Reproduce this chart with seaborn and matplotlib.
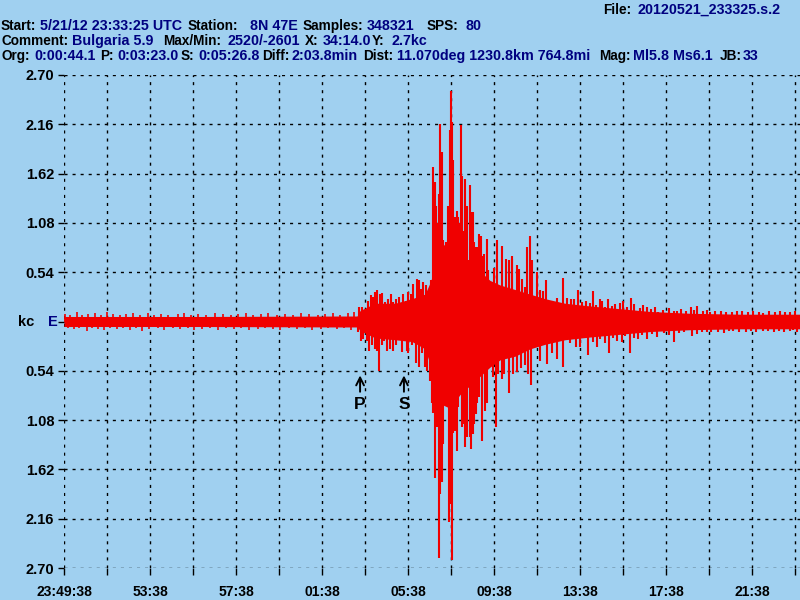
import numpy as np
import pandas as pd
import matplotlib
matplotlib.use("Agg")
import matplotlib.pyplot as plt
import seaborn as sns

# time axis in minutes after 23:49:38, amplitude in kilocounts (kc)
x_ticks = [0, 4, 8, 12, 16, 20, 24, 28, 32]
x_labels = ["23:49:38", "53:38", "57:38", "01:38", "05:38", "09:38", "13:38", "17:38", "21:38"]
y_ticks = [2.70, 2.16, 1.62, 1.08, 0.54, 0.0, -0.54, -1.08, -1.62, -2.16, -2.70]
y_labels = ["2.70", "2.16", "1.62", "1.08", "0.54", "", "0.54", "1.08", "1.62", "2.16", "2.70"]

# solid body of the trace (envelope)
core_t = [0.0, 6.33, 12.84, 13.63, 13.77, 14.47, 15.40, 16.19, 16.79, 17.07, 17.21, 17.49,
          17.95, 18.42, 19.12, 19.81, 20.28, 20.98, 21.67, 22.37, 23.30, 24.47, 25.86,
          27.26, 29.12, 31.44, 34.23]
core_hi = [0.055, 0.055, 0.06, 0.06, 0.12, 0.20, 0.20, 0.25, 0.30, 0.45, 0.60, 0.80,
           0.90, 0.75, 0.60, 0.45, 0.40, 0.35, 0.30, 0.25, 0.20, 0.17, 0.14,
           0.11, 0.09, 0.08, 0.08]
core_lo = [-0.055, -0.055, -0.06, -0.06, -0.10, -0.18, -0.20, -0.22, -0.30, -0.50, -0.75, -0.90,
           -0.95, -0.80, -0.65, -0.50, -0.42, -0.38, -0.30, -0.25, -0.20, -0.17, -0.14,
           -0.11, -0.09, -0.08, -0.08]

# small peaks of the background noise
noise_up_t = [0.05, 0.30, 0.59, 0.85, 1.10, 1.42, 1.70, 1.99, 2.28, 2.60, 2.90, 3.20, 3.55,
              3.90, 4.20, 4.50, 4.85, 5.30, 5.60, 5.90, 6.25, 6.60, 7.00, 7.40, 7.75, 8.10,
              8.45, 8.80, 9.15, 9.50, 9.90, 10.30, 10.65, 11.00, 11.40, 11.80, 12.15, 12.50,
              12.85, 13.20, 13.50]
noise_up_kc = [0.08, 0.07, 0.10, 0.07, 0.08, 0.09, 0.07, 0.10, 0.08, 0.07, 0.08, 0.09, 0.07,
               0.09, 0.07, 0.08, 0.07, 0.08, 0.09, 0.07, 0.08, 0.07, 0.09, 0.08, 0.07, 0.08,
               0.09, 0.07, 0.08, 0.09, 0.07, 0.08, 0.07, 0.09, 0.08, 0.07, 0.08, 0.09,
               0.07, 0.09, 0.10]
noise_down_t = [0.18, 0.45, 0.72, 1.08, 1.30, 1.60, 1.85, 2.15, 2.45, 2.75, 3.05, 3.35, 3.61,
                3.95, 4.35, 4.65, 5.05, 5.40, 5.75, 6.05, 6.40, 6.80, 7.15, 7.55, 7.90, 8.25,
                8.60, 9.00, 9.35, 9.70, 10.05, 10.45, 10.85, 11.20, 11.55, 11.95, 12.30,
                12.70, 13.00, 13.35]
noise_down_kc = [-0.07, -0.08, -0.07, -0.10, -0.07, -0.08, -0.09, -0.07, -0.08, -0.07, -0.09,
                 -0.07, -0.10, -0.08, -0.07, -0.09, -0.07, -0.08, -0.07, -0.09, -0.08, -0.07,
                 -0.09, -0.07, -0.08, -0.07, -0.09, -0.08, -0.07, -0.08, -0.09, -0.07, -0.08,
                 -0.07, -0.09, -0.08, -0.07, -0.08, -0.07, -0.09]

# upward peaks of the quake
up_t = [13.73, 13.85, 14.00, 14.15, 14.28, 14.39, 14.47, 14.57, 14.70, 14.80, 14.93, 15.06,
        15.20, 15.32, 15.44, 15.60, 15.75, 15.91, 16.01, 16.13, 16.25, 16.40, 16.51, 16.60,
        16.71, 16.84, 16.94, 17.06,
        17.18, 17.26, 17.30, 17.35, 17.46, 17.50, 17.60, 17.64, 17.78, 17.88, 17.95, 18.01,
        18.06, 18.11, 18.19, 18.23, 18.29, 18.34, 18.42, 18.48, 18.53, 18.59, 18.65, 18.73,
        18.80, 18.87, 18.93, 19.01, 19.08, 19.16, 19.22, 19.29, 19.40, 19.46, 19.52, 19.66,
        19.74, 20.01, 20.12, 20.37, 20.56, 20.70, 20.82, 21.06,
        20.85, 21.16, 21.29, 21.44, 21.52, 21.67, 21.75, 21.99, 22.14, 22.29, 22.43, 22.60,
        22.94, 23.22, 23.38, 23.57, 23.72, 23.89, 24.08, 24.28, 24.59, 24.93, 25.16, 25.32,
        25.63, 26.01, 26.37, 26.64, 26.92, 27.10, 27.64, 28.50, 29.15, 29.46, 30.05, 31.06,
        32.53, 33.77,
        24.45, 24.75, 25.00, 25.50, 25.85, 26.20, 26.50, 26.80, 27.30, 27.50, 27.85, 28.15,
        28.35, 28.70, 28.95, 29.30, 29.70, 29.90, 30.30, 30.55, 30.80, 31.30, 31.55, 31.80,
        32.05, 32.30, 32.80, 33.05, 33.30, 33.55, 34.00]
up_kc = [0.16, 0.16, 0.12, 0.23, 0.29, 0.27, 0.32, 0.34, 0.30, 0.31, 0.21, 0.25,
         0.30, 0.21, 0.25, 0.27, 0.30, 0.23, 0.32, 0.30, 0.41, 0.47, 0.45, 0.36,
         0.43, 0.40, 0.32, 0.45,
         1.69, 1.53, 1.27, 1.08, 1.40, 2.16, 1.86, 0.89, 0.87, 1.26, 2.10, 2.52,
         2.19, 1.77, 1.14, 0.70, 1.21, 1.14, 1.08, 2.15, 1.59, 0.99, 1.56, 1.26,
         0.67, 1.50, 1.20, 1.20, 0.87, 0.82, 0.82, 0.96, 0.94, 0.72, 0.74, 0.90,
         0.56, 0.59, 0.89, 0.83, 0.68, 0.67, 0.68, 0.62,
         0.72, 0.58, 0.47, 0.38, 0.82, 0.94, 0.67, 0.54, 0.34, 0.33, 0.45, 0.23,
         0.26, 0.48, 0.26, 0.25, 0.25, 0.34, 0.21, 0.23, 0.33, 0.25, 0.16, 0.25,
         0.19, 0.23, 0.26, 0.12, 0.18, 0.16, 0.10, 0.12, 0.16, 0.17, 0.10, 0.10,
         0.09, 0.10,
         0.20, 0.18, 0.22, 0.17, 0.20, 0.16, 0.19, 0.15, 0.14, 0.16, 0.13, 0.15,
         0.12, 0.14, 0.12, 0.13, 0.11, 0.13, 0.11, 0.12, 0.10, 0.11, 0.12, 0.10,
         0.11, 0.10, 0.11, 0.10, 0.12, 0.10, 0.11]

# downward peaks of the quake
down_t = [13.69, 13.80, 13.92, 14.08, 14.20, 14.34, 14.47, 14.57, 14.67, 14.78, 14.90, 15.04,
          15.16, 15.29, 15.44, 15.55, 15.71, 15.86, 15.94, 16.01, 16.17, 16.37, 16.51, 16.64,
          16.80, 16.90, 17.02,
          17.10, 17.18, 17.26, 17.36, 17.46, 17.50, 17.60, 17.64, 17.91, 17.95, 18.03, 18.11,
          18.19, 18.26, 18.34, 18.50, 18.57, 18.65, 18.73, 18.88, 18.94, 19.01, 19.07, 19.15,
          19.22, 19.29, 19.43, 19.58, 19.66, 19.97, 20.11, 20.20,
          20.36, 20.47, 20.71, 20.90, 21.06, 21.24, 21.44, 21.60, 21.71, 22.14, 22.45, 22.68,
          22.92, 23.22, 23.53, 23.81, 24.00, 24.39, 24.78, 25.36, 25.71, 26.33, 26.71, 27.10,
          28.37, 29.19, 29.89, 31.13, 32.53, 33.92,
          24.60, 24.95, 25.15, 25.55, 25.95, 26.10, 26.50, 26.90, 27.35, 27.60, 27.90, 28.15,
          28.60, 28.85, 29.45, 29.65, 30.10, 30.40, 30.70, 30.95, 31.40, 31.70, 31.95, 32.20,
          32.75, 33.00, 33.25, 33.50, 33.75, 34.10]
down_kc = [-0.12, -0.21, -0.19, -0.21, -0.32, -0.26, -0.30, -0.32, -0.54, -0.26, -0.21, -0.32,
           -0.30, -0.32, -0.26, -0.19, -0.33, -0.21, -0.32, -0.35, -0.26, -0.46, -0.50, -0.35,
           -0.50, -0.54, -0.65,
           -0.89, -1.00, -1.71, -1.16, -2.59, -1.89, -1.76, -1.34, -2.20, -2.00, -2.61, -1.22,
           -1.20, -1.42, -0.94, -1.16, -1.12, -1.38, -1.27, -1.27, -1.40, -1.23, -1.12, -1.01,
           -0.89, -0.83, -1.31, -0.98, -0.89, -0.61, -1.16, -0.57,
           -0.63, -0.57, -0.78, -0.58, -0.55, -0.51, -0.48, -0.57, -0.70, -0.43, -0.47, -0.34,
           -0.41, -0.50, -0.24, -0.28, -0.28, -0.37, -0.28, -0.35, -0.21, -0.34, -0.19, -0.19,
           -0.23, -0.16, -0.12, -0.10, -0.10, -0.09,
           -0.22, -0.19, -0.24, -0.18, -0.22, -0.16, -0.18, -0.15, -0.14, -0.17, -0.13, -0.15,
           -0.13, -0.12, -0.14, -0.11, -0.12, -0.11, -0.13, -0.10, -0.11, -0.12, -0.10, -0.11,
           -0.10, -0.12, -0.10, -0.11, -0.10, -0.11]

# P and S arrival picks (minutes)
pick_names = ["P", "S"]
pick_t = [13.77, 15.81]

# header lines: (text, x pixel, is_value)
header = [
    [("File:", 603, False), ("20120521_233325.s.2", 637, True)],
    [("Start:", 1, False), ("5/21/12 23:33:25 UTC", 40, True), ("Station:", 188, False),
     ("8N 47E", 250, True), ("Samples:", 303, False), ("348321", 367, True),
     ("SPS:", 427, False), ("80", 465, True)],
    [("Comment:", 1, False), ("Bulgaria 5.9", 72, True), ("Max/Min:", 163, False),
     ("2520/-2601", 227, True), ("X:", 305, False), ("34:14.0", 323, True),
     ("Y:", 372, False), ("2.7kc", 391, True)],
    [("Org:", 1, False), ("0:00:44.1", 34, True), ("P:", 100, False), ("0:03:23.0", 117, True),
     ("S:", 181, False), ("0:05:26.8", 198, True), ("Diff:", 262, False),
     ("2:03.8min", 292, True), ("Dist:", 363, False),
     ("11.070deg 1230.8km 764.8mi", 397, True), ("Mag:", 599, False),
     ("Ml5.8 Ms6.1", 633, True), ("JB:", 720, False), ("33", 743, True)],
]
header_y = [10, 26, 41, 56]

bg = "#a0d0f0"
red = "#f00000"
navy = "#000080"

sns.set_theme(style="ticks", rc={"axes.facecolor": bg, "figure.facecolor": bg,
                                 "lines.scale_dashes": False})
plt.rcParams["font.family"] = ["Liberation Sans", "DejaVu Sans"]

fig = plt.figure(figsize=(8, 6), dpi=100)
ax = fig.add_axes([64 / 800, 1 - 568 / 600, 736 / 800, 493 / 600])

ax.fill_between(core_t, core_lo, core_hi, color=red, lw=0, zorder=3)
ax.vlines(noise_up_t, 0, noise_up_kc, color=red, lw=1.2, zorder=3)
ax.vlines(noise_down_t, noise_down_kc, 0, color=red, lw=1.2, zorder=3)
ax.vlines(up_t, 0, up_kc, color=red, lw=1.5, zorder=3)
ax.vlines(down_t, down_kc, 0, color=red, lw=1.5, zorder=3)

ax.set_xlim(0, 34.23)
ax.set_ylim(-2.70, 2.70)
ax.set_xticks(x_ticks)
ax.set_xticklabels(x_labels)
ax.set_xticks(np.arange(2, 35, 4), minor=True)
ax.set_yticks(y_ticks)
ax.set_yticklabels(y_labels)
for s in ax.spines.values():
    s.set_visible(False)
ax.grid(True, which="both", color="black", lw=1.0, linestyle=(0, (2.2, 3.6)), zorder=1)
ax.tick_params(axis="both", which="both", length=4, width=1, color="black",
               labelsize=10.5, labelcolor="black", pad=3)
ax.tick_params(axis="x", which="both", length=5, pad=7, labelsize=10)
for lab in ax.get_xticklabels() + ax.get_yticklabels():
    lab.set_fontweight("bold")

# zero line label
ax.text(-0.0625, 0.5, "kc", transform=ax.transAxes, ha="left", va="center",
        fontsize=10.5, fontweight="bold", color="black")
ax.text(-0.009, 0.5, "E", transform=ax.transAxes, ha="right", va="center",
        fontsize=10.5, fontweight="bold", color=navy)

for name, t in zip(pick_names, pick_t):
    ax.annotate("", xy=(t, -0.56), xytext=(t, -0.80),
                arrowprops=dict(arrowstyle="->", color="black", lw=1.4, mutation_scale=14))
    ax.text(t, -0.91, name, ha="center", va="center", fontsize=12.5,
            fontweight="bold", color="black")

for y, line in zip(header_y, header):
    for txt, xp, is_val in line:
        fig.text(xp / 800, 1 - y / 600, txt, ha="left", va="center",
                 fontsize=10.3 if is_val else 9.8,
                 fontweight="bold", color=navy if is_val else "black")

fig.savefig("out.png", dpi=100, facecolor=bg)
